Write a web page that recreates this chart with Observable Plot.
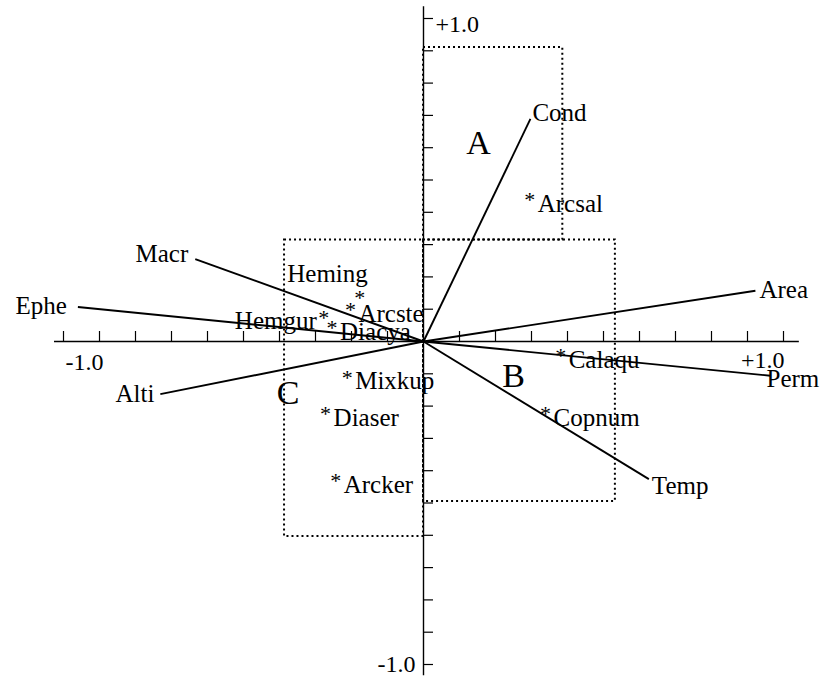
<!DOCTYPE html>
<html><head><meta charset="utf-8">
<script src="https://cdn.jsdelivr.net/npm/d3@7"></script>
<script src="https://cdn.jsdelivr.net/npm/@observablehq/plot@0.6"></script>
<style>body{margin:0;background:#fff}</style>
</head><body><div id="chart"></div>
<script>
// Environmental variables (vectors)
const variables = ["Cond", "Area", "Perm", "Temp", "Alti", "Ephe", "Macr"];
const varX = [0.297, 0.922, 0.964, 0.626, -0.731, -0.960, -0.634];
const varY = [0.689, 0.157, -0.106, -0.426, -0.163, 0.107, 0.255];

// Species scores
const species = ["Arcsal", "Heming", "Arcste", "Hemgur", "Diacya", "Calaqu", "Mixkup", "Diaser", "Copnum", "Arcker"];
const spX = [0.295, -0.177, -0.203, -0.277, -0.254, 0.381, -0.212, -0.272, 0.339, -0.244];
const spY = [0.451, 0.147, 0.111, 0.085, 0.054, -0.031, -0.099, -0.212, -0.211, -0.419];

// Groups (boxes)
const groups = ["A", "B", "C"];
const groupX = [0.153, 0.25, -0.376];
const groupY = [0.615, -0.106, -0.159];
const boxX1 = [0, 0, -0.386];
const boxX2 = [0.387, 0.533, 0];
const boxY1 = [0.314, -0.495, -0.604];
const boxY2 = [0.910, 0.314, 0.314];

// Axis ticks
const tickValues = [-1.0,-0.9,-0.8,-0.7,-0.6,-0.5,-0.4,-0.3,-0.2,-0.1,0.1,0.2,0.3,0.4,0.5,0.6,0.7,0.8,0.9,1.0];
const tickLabels = ["-1.0", "+1.0"];

const vars = variables.map((name, i) => ({name, x: varX[i], y: varY[i]}));
const sps = species.map((name, i) => ({name, x: spX[i], y: spY[i]}));
const grps = groups.map((name, i) => ({name, x: groupX[i], y: groupY[i]}));
const boxes = groups.map((name, i) => ({name, x1: boxX1[i], x2: boxX2[i], y1: boxY1[i], y2: boxY2[i]}));

const SERIF = "Liberation Serif";
const varNudge = {
  Cond: ["start", 2, -6], Area: ["start", 4, -1], Perm: ["start", -4, 3], Temp: ["start", 3, 7],
  Alti: ["end", -6, 0], Ephe: ["end", -11, -1], Macr: ["end", -7, -5]
};
const spNudge = {Heming: ["end", 8, -20], Hemgur: ["end", -7, 7]};

const FS = 25;
const varLabelMarks = vars.map(v => {
  const [anchor, dx, dy] = varNudge[v.name];
  return Plot.text([v], {x: "x", y: "y", text: "name", textAnchor: anchor, lineAnchor: "middle", dx, dy, fontSize: FS, fontFamily: SERIF});
});
const spLabelMarks = sps.map(s => {
  const [anchor, dx, dy] = spNudge[s.name] || ["start", 8, 8];
  return Plot.text([s], {x: "x", y: "y", text: "name", textAnchor: anchor, lineAnchor: "middle", dx, dy, fontSize: FS, fontFamily: SERIF});
});

const chart = Plot.plot({
  width: 830,
  height: 677,
  marginLeft: 63,
  marginRight: 47,
  marginTop: 18,
  marginBottom: 13,
  x: {domain: [-1, 1], axis: null},
  y: {domain: [-1, 1], axis: null},
  style: {fontFamily: SERIF, background: "white", color: "black", overflow: "visible"},
  marks: [
    // dotted group boxes
    Plot.rect(boxes, {x1: "x1", x2: "x2", y1: "y1", y2: "y2", fill: "none", stroke: "black", strokeWidth: 2, strokeDasharray: "2,3"}),
    // axes
    Plot.ruleY([0], {x1: -1.025, x2: 1.044, stroke: "black", strokeWidth: 1.4}),
    Plot.ruleX([0], {y1: -1.035, y2: 1.036, stroke: "black", strokeWidth: 1.4}),
    Plot.ruleX(tickValues, {x: d => d, y1: 0, y2: 10 / 323, stroke: "black", strokeWidth: 1.2}),
    Plot.ruleY(tickValues, {y: d => d, x1: 0, x2: 10 / 360, stroke: "black", strokeWidth: 1.2}),
    Plot.text([tickLabels[0]], {x: -1, y: 0, text: d => d, textAnchor: "start", lineAnchor: "middle", dx: 2, dy: 21, fontSize: 24, fontFamily: SERIF}),
    Plot.text([tickLabels[1]], {x: 1, y: 0, text: d => d, textAnchor: "end", lineAnchor: "middle", dx: 1, dy: 19, fontSize: 24, fontFamily: SERIF}),
    Plot.text([tickLabels[1]], {x: 0, y: 1, text: d => d, textAnchor: "start", lineAnchor: "middle", dx: 12, dy: 6, fontSize: 24, fontFamily: SERIF}),
    Plot.text([tickLabels[0]], {x: 0, y: -1, text: d => d, textAnchor: "end", lineAnchor: "middle", dx: -8, dy: 0, fontSize: 24, fontFamily: SERIF}),
    // vectors
    Plot.link(vars, {x1: 0, y1: 0, x2: "x", y2: "y", stroke: "black", strokeWidth: 1.9}),
    ...varLabelMarks,
    // species
    Plot.text(sps, {x: "x", y: "y", text: () => "*", fontSize: 22, lineAnchor: "middle", dy: 4, fontFamily: SERIF}),
    ...spLabelMarks,
    // group letters
    Plot.text(grps, {x: "x", y: "y", text: "name", fontSize: 34, lineAnchor: "middle", textAnchor: "middle", fontFamily: SERIF})
  ]
});
document.getElementById("chart").appendChild(chart);
</script>
</body></html>
